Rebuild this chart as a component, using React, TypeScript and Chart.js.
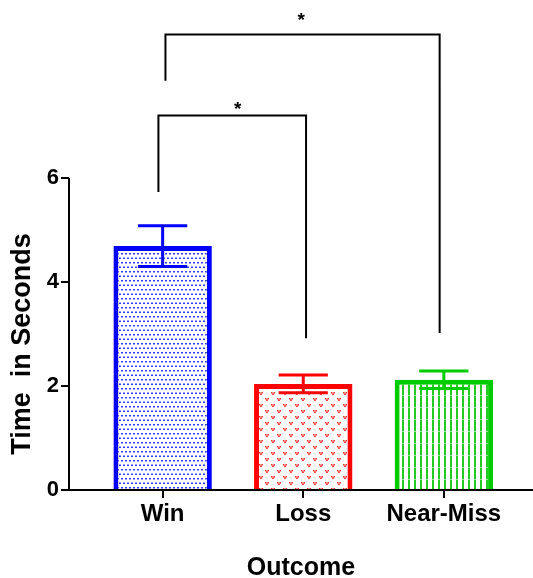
import React, { useEffect, useRef } from "react";
import { Chart, registerables } from "chart.js";

Chart.register(...registerables);

const categories = ["Win", "Loss", "Near-Miss"];
const means = [4.69, 2.04, 2.12];
const errors = [0.39, 0.17, 0.17];
const yTickValues = [0, 2, 4, 6];
const borderColors = ["#0000FF", "#FF0000", "#00CC00"];
// significance brackets (data units)
const bracketX1 = [0.02, -0.03];
const bracketX2 = [1.97, 1.02];
const bracketTop = [8.76, 7.2];
const bracketLeftEnd = [7.87, 5.73];
const bracketRightEnd = [3.02, 2.92];
const bracketLabels = ["*", "*"];
const bracketLabelX = [0.986, 0.533];
const bracketLabelY = [9.02, 7.32];

const FONT = "'Liberation Sans', Arial, sans-serif";

function makePattern(kind: string): CanvasPattern | string {
  const c = document.createElement("canvas");
  const ctx = c.getContext("2d");
  if (!ctx) return "#fff";
  if (kind === "dots") {
    c.width = 8; c.height = 9;
    ctx.fillStyle = "#fff"; ctx.fillRect(0, 0, 8, 9);
    ctx.fillStyle = "#3a3aff";
    ctx.fillRect(1, 1, 2, 1.5);
    ctx.fillRect(5, 1, 2, 1.5);
    ctx.fillRect(3, 5.5, 2, 1.5);
    ctx.fillRect(7, 5.5, 1, 1.5);
    ctx.fillRect(0, 5.5, 1, 1.5);
  } else if (kind === "hearts") {
    c.width = 12; c.height = 12;
    ctx.fillStyle = "#fff"; ctx.fillRect(0, 0, 12, 12);
    ctx.fillStyle = "#ff2a2a";
    const v = (x: number, y: number) => {
      ctx.fillRect(x, y, 1.5, 1.5);
      ctx.fillRect(x + 2.5, y, 1.5, 1.5);
      ctx.fillRect(x + 1.2, y + 1.3, 1.6, 1.8);
    };
    v(1, 2);
    v(7, 8);
  } else {
    c.width = 6; c.height = 12;
    ctx.fillStyle = "#fff"; ctx.fillRect(0, 0, 6, 12);
    ctx.fillStyle = "#22cc22";
    ctx.fillRect(0, 0, 2, 12);
    ctx.fillStyle = "rgba(255,255,255,0.5)";
    ctx.fillRect(0, 11, 2, 1);
  }
  return ctx.createPattern(c, "repeat") || "#fff";
}

const customPlugin = {
  id: "custom",
  afterDatasetsDraw(chart: any) {
    const { ctx, scales } = chart;
    const xs = scales.x;
    const ys = scales.y;
    const meta = chart.getDatasetMeta(0);
    ctx.save();
    // y axis line up to the last tick
    ctx.strokeStyle = "#000";
    ctx.lineWidth = 2;
    ctx.beginPath();
    const ax = chart.chartArea.left;
    ctx.moveTo(ax, ys.getPixelForValue(yTickValues[yTickValues.length - 1]));
    ctx.lineTo(ax, ys.getPixelForValue(0) + 1);
    ctx.stroke();
    // error bars
    meta.data.forEach((bar: any, i: number) => {
      const cx = bar.x;
      const half = bar.width / 4;
      const yt = ys.getPixelForValue(means[i] + errors[i]);
      const yb = ys.getPixelForValue(means[i] - errors[i]);
      ctx.strokeStyle = borderColors[i];
      ctx.lineWidth = 3;
      ctx.beginPath();
      ctx.moveTo(cx, yt);
      ctx.lineTo(cx, yb);
      ctx.moveTo(cx - half, yt);
      ctx.lineTo(cx + half, yt);
      ctx.moveTo(cx - half, yb);
      ctx.lineTo(cx + half, yb);
      ctx.stroke();
    });
    // brackets
    ctx.strokeStyle = "#000";
    ctx.lineWidth = 2;
    ctx.fillStyle = "#000";
    ctx.font = `bold 19px ${FONT}`;
    ctx.textAlign = "center";
    ctx.textBaseline = "middle";
    bracketTop.forEach((top, i) => {
      const x1 = xs.getPixelForValue(bracketX1[i]);
      const x2 = xs.getPixelForValue(bracketX2[i]);
      const yt = ys.getPixelForValue(top);
      ctx.beginPath();
      ctx.moveTo(x1, ys.getPixelForValue(bracketLeftEnd[i]));
      ctx.lineTo(x1, yt);
      ctx.lineTo(x2, yt);
      ctx.lineTo(x2, ys.getPixelForValue(bracketRightEnd[i]));
      ctx.stroke();
      ctx.fillText(
        bracketLabels[i],
        xs.getPixelForValue(bracketLabelX[i]),
        ys.getPixelForValue(bracketLabelY[i])
      );
    });
    // y title
    ctx.font = `bold 27px ${FONT}`;
    ctx.translate(23, 344);
    ctx.rotate(-Math.PI / 2);
    ctx.fillText("Time  in Seconds", 0, 0);
    ctx.restore();
  },
};

export default function App() {
  const ref = useRef<HTMLCanvasElement | null>(null);
  useEffect(() => {
    if (!ref.current) return;
    const fills = [makePattern("dots"), makePattern("hearts"), makePattern("stripes")];
    const chart = new Chart(ref.current, {
      type: "bar",
      data: {
        datasets: [
          {
            data: means.map((m, i) => ({ x: i, y: m })),
            backgroundColor: fills as any,
            borderColor: borderColors,
            borderWidth: 5,
            barPercentage: 0.7,
            categoryPercentage: 1,
          },
        ],
      },
      options: {
        responsive: false,
        animation: false,
        layout: { padding: { top: 22, left: 0, right: 0, bottom: 0 } },
        plugins: { legend: { display: false }, tooltip: { enabled: false } },
        scales: {
          x: {
            type: "linear",
            offset: false,
            min: -0.666,
            max: 2.634,
            afterBuildTicks: (s: any) => {
              s.ticks = categories.map((_, i) => ({ value: i }));
            },
            afterFit: (s: any) => {
              s.height = 88;
            },
            ticks: {
              callback: (v: any) => categories[v as number] ?? "",
              color: "#000",
              font: { family: FONT, size: 24, weight: "bold" },
              padding: 2,
              maxRotation: 0,
              autoSkip: false,
            },
            grid: {
              offset: false,
              drawOnChartArea: false,
              drawTicks: true,
              tickLength: 8,
              color: "#000",
              lineWidth: 2,
            },
            border: { display: true, color: "#000", width: 2 },
            title: {
              display: true,
              text: "Outcome",
              color: "#000",
              font: { family: FONT, size: 25, weight: "bold", lineHeight: 0.8 },
              padding: { top: 0, bottom: 0 },
            },
          },
          y: {
            min: 0,
            max: 9,
            afterBuildTicks: (s: any) => {
              s.ticks = yTickValues.map((v) => ({ value: v }));
            },
            afterFit: (s: any) => {
              s.width = 69;
            },
            ticks: {
              color: "#000",
              font: { family: FONT, size: 22, weight: "bold" },
              padding: 2,
            },
            grid: {
              drawOnChartArea: false,
              drawTicks: true,
              tickLength: 8,
              color: "#000",
              lineWidth: 2,
            },
            border: { display: false },
          },
        },
      },
      plugins: [customPlugin],
    });
    return () => chart.destroy();
  }, []);
  return (
    <div style={{ position: "fixed", left: 0, top: 0, width: 533, height: 578, background: "#fff" }}>
      <canvas ref={ref} width={533} height={578} style={{ display: "block" }} />
    </div>
  );
}
